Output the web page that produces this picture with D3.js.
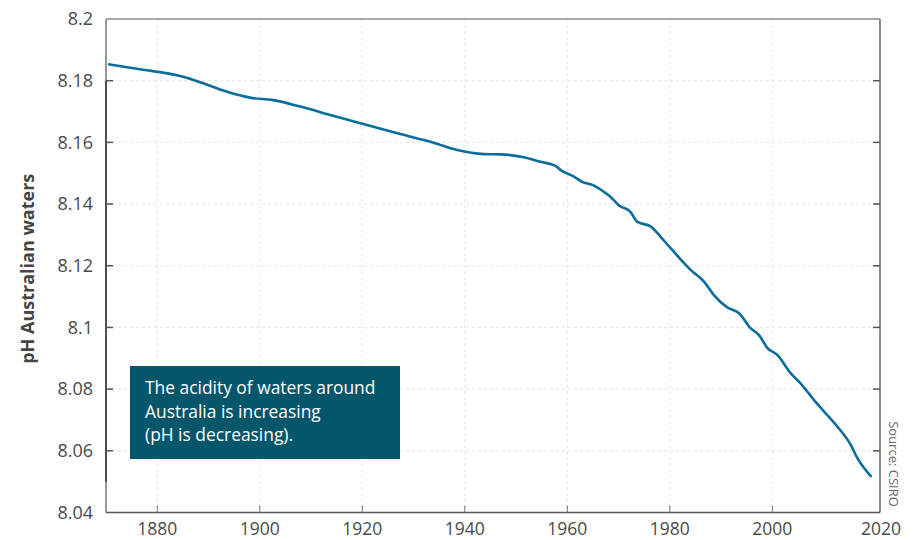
<!DOCTYPE html>
<html>
<head>
<meta charset="utf-8">
<script src="https://cdn.jsdelivr.net/npm/d3@7"></script>
<style>
  html, body { margin: 0; padding: 0; background: #fff; }
  svg { display: block; }
</style>
</head>
<body>
<svg id="chart" width="917" height="540"></svg>
<script>
const years = [1870.6, 1876.6, 1884.5, 1888.4, 1893.6, 1898.1, 1902.6, 1907.9, 1914.3, 1920.9,
  1927.4, 1933.9, 1938.5, 1943.7, 1947.0, 1951.5, 1954.8, 1957.7, 1958.7, 1961.3,
  1962.9, 1964.9, 1965.8, 1967.1, 1968.4, 1970.1, 1972.3, 1973.6, 1976.3, 1978.2,
  1980.2, 1982.1, 1984.1, 1986.7, 1988.6, 1991.2, 1993.5, 1995.8, 1997.4, 1999.0,
  2001.0, 2003.6, 2005.5, 2008.1, 2010.1, 2012.4, 2015.3, 2016.6, 2019.2];
const phValues = [8.1853, 8.1837, 8.1815, 8.1795, 8.1764, 8.1745, 8.1737, 8.1716, 8.1686, 8.1656,
  8.1627, 8.1599, 8.1575, 8.1562, 8.1561, 8.1552, 8.1537, 8.1524, 8.1510, 8.1489,
  8.1472, 8.1462, 8.1454, 8.1440, 8.1424, 8.1395, 8.1375, 8.1343, 8.1327, 8.1294,
  8.1256, 8.1221, 8.1186, 8.1148, 8.1105, 8.1065, 8.1046, 8.0997, 8.0975, 8.0934,
  8.0910, 8.0851, 8.0819, 8.0765, 8.0727, 8.0684, 8.0619, 8.0576, 8.0518];
const xTicks = [1880, 1900, 1920, 1940, 1960, 1980, 2000];
const xEndLabel = "2020";
const yTicks = [8.04, 8.06, 8.08, 8.1, 8.12, 8.14, 8.16, 8.18, 8.2];
const yTitle = "pH Australian waters";
const noteLines = ["The acidity of waters around", "Australia is increasing", "(pH is decreasing)."];
const sourceText = "Source: CSIRO";

(function () {
const svg = d3.select("#chart");
const font = "'Open Sans', 'Noto Sans', sans-serif";
const pl = 106, pr = 880, pt = 19, pb = 512.5;

const x = d3.scaleLinear().domain([1870, 2021]).range([pl, pr]);
const y = d3.scaleLinear().domain([8.04, 8.2]).range([pb, pt]);

// grid
const grid = svg.append("g");
grid.selectAll("line.h").data(yTicks.slice(1, -1)).join("line")
  .attr("x1", pl).attr("x2", pr)
  .attr("y1", d => y(d)).attr("y2", d => y(d))
  .attr("stroke", "#e4e4e4").attr("stroke-width", 1).attr("stroke-dasharray", "3,3");
grid.selectAll("line.v").data(xTicks).join("line")
  .attr("x1", d => x(d)).attr("x2", d => x(d))
  .attr("y1", pt).attr("y2", pb)
  .attr("stroke", "#e4e4e4").attr("stroke-width", 1).attr("stroke-dasharray", "3,3");

// frame
svg.append("line").attr("x1", pl).attr("x2", pr).attr("y1", pt).attr("y2", pt)
  .attr("stroke", "#8a8a8a").attr("stroke-width", 1.5);
svg.append("line").attr("x1", pr).attr("x2", pr).attr("y1", pt).attr("y2", pb)
  .attr("stroke", "#666").attr("stroke-width", 1.5);
svg.append("line").attr("x1", pl).attr("x2", pl).attr("y1", pt).attr("y2", pb)
  .attr("stroke", "#999").attr("stroke-width", 2);
svg.append("line").attr("x1", pl).attr("x2", pl).attr("y1", y(8.18)).attr("y2", y(8.05))
  .attr("stroke", "#505050").attr("stroke-width", 2);
svg.append("line").attr("x1", pl).attr("x2", pr).attr("y1", pb).attr("y2", pb)
  .attr("stroke", "#555").attr("stroke-width", 1.5);

// y ticks (inside, both sides)
const yt = svg.append("g");
yt.selectAll("line.l").data(yTicks.slice(1, -1)).join("line")
  .attr("x1", pl).attr("x2", pl + 7).attr("y1", d => y(d)).attr("y2", d => y(d))
  .attr("stroke", "#555").attr("stroke-width", 1.5);
yt.selectAll("line.r").data(yTicks.slice(1, -1)).join("line")
  .attr("x1", pr - 7).attr("x2", pr).attr("y1", d => y(d)).attr("y2", d => y(d))
  .attr("stroke", "#555").attr("stroke-width", 1.5);
yt.selectAll("text").data(yTicks).join("text")
  .attr("x", 93).attr("y", d => y(d)).attr("dy", "0.35em")
  .attr("text-anchor", "end").attr("font-family", font).attr("font-size", 18)
  .attr("fill", "#4a4a4a")
  .text(d => String(+d.toFixed(2)));

// x ticks
const xt = svg.append("g");
xt.selectAll("line").data(xTicks).join("line")
  .attr("x1", d => x(d)).attr("x2", d => x(d)).attr("y1", pb).attr("y2", pb - 7)
  .attr("stroke", "#777").attr("stroke-width", 1);
xt.selectAll("text").data(xTicks).join("text")
  .attr("x", d => x(d)).attr("y", 535)
  .attr("text-anchor", "middle").attr("font-family", font).attr("font-size", 17.5)
  .attr("fill", "#4a4a4a").text(d => d);
svg.append("text").attr("x", pr + 1).attr("y", 535)
  .attr("text-anchor", "middle").attr("font-family", font).attr("font-size", 17.5)
  .attr("fill", "#4a4a4a").text(xEndLabel);

// y title
svg.append("text")
  .attr("transform", `translate(34, ${(pt + pb) / 2 + 3}) rotate(-90)`)
  .attr("text-anchor", "middle").attr("font-family", font).attr("font-size", 18)
  .attr("font-weight", "bold").attr("fill", "#444").text(yTitle);

// source
svg.append("text")
  .attr("transform", `translate(889, 464) rotate(90)`)
  .attr("text-anchor", "middle").attr("font-family", font).attr("font-size", 13)
  .attr("fill", "#666").text(sourceText);

// data line
const line = d3.line().x((d, i) => x(years[i])).y(d => y(d)).curve(d3.curveMonotoneX);
svg.append("path").datum(phValues)
  .attr("d", line).attr("fill", "none")
  .attr("stroke", "#0a6d9c").attr("stroke-width", 2.6)
  .attr("stroke-linejoin", "round").attr("stroke-linecap", "round");

// annotation box
const note = svg.append("g");
note.append("rect").attr("x", 130).attr("y", 366).attr("width", 270).attr("height", 93)
  .attr("fill", "#04566b");
note.selectAll("text").data(noteLines).join("text")
  .attr("x", 145).attr("y", (d, i) => 394 + i * 23.5)
  .attr("font-family", font).attr("font-size", 17.4).attr("fill", "#ffffff")
  .text(d => d);
})();
</script>
</body>
</html>
